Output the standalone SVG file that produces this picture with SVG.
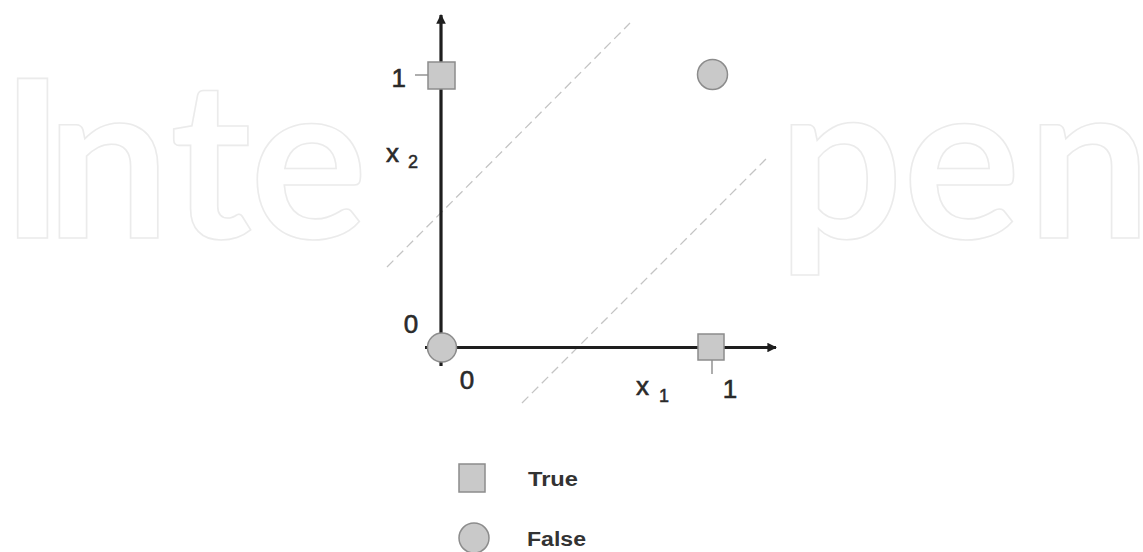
<svg xmlns="http://www.w3.org/2000/svg" width="1143" height="552" viewBox="0 0 1143 552">
<style>
.wm{font-family:Lato,"Liberation Sans",sans-serif;font-weight:700;font-size:220px;fill:none;stroke:#ebebeb;stroke-width:1.6}
.lbl{font-family:"Liberation Sans",Arial,sans-serif;font-size:26px;fill:#2a2a2a;stroke:#2a2a2a;stroke-width:0.6}
.sub{font-family:"Liberation Sans",Arial,sans-serif;font-size:18px;fill:#2a2a2a;stroke:#2a2a2a;stroke-width:0.5}
.leg{font-family:"Liberation Sans",Arial,sans-serif;font-weight:700;font-size:20px;fill:#333}
.mk{fill:#c9c9c9;stroke:#8c8c8c;stroke-width:1.5}
.axis{stroke:#1e1e1e;stroke-width:3.2;fill:none}
.dash{stroke:#c4c4c4;stroke-width:1.3;stroke-dasharray:9 5;fill:none}
.tick{stroke:#777;stroke-width:1.2}
</style>
<defs>
<marker id="arr" viewBox="0 0 10 10" refX="9" refY="5" markerWidth="3" markerHeight="3" orient="auto" markerUnits="strokeWidth">
<path d="M0,0 L10,5 L0,10 Z" fill="#1e1e1e"/>
</marker>
</defs>
<rect width="1143" height="552" fill="#fff"/>
<g id="watermark">
<text class="wm" x="0 46 170 250" y="238">Inte</text>
<text class="wm" x="778 903 1027" y="238">pen</text>
</g>
<g id="connectors">
<line class="dash" x1="387" y1="267" x2="630" y2="23"/>
<line class="dash" x1="522" y1="403" x2="767" y2="158"/>
<line class="axis" x1="441" y1="366" x2="441" y2="15" marker-end="url(#arr)"/>
<line class="axis" x1="425" y1="347.5" x2="776" y2="347.5" marker-end="url(#arr)"/>
<line class="tick" x1="415" y1="75" x2="428" y2="75"/>
<line class="tick" x1="712" y1="360" x2="712" y2="374"/>
</g>
<g id="p01"><rect class="mk" x="428" y="62" width="27" height="27"/></g>
<g id="p11"><circle class="mk" cx="712.5" cy="74.5" r="15"/></g>
<g id="p00"><circle class="mk" cx="442" cy="347.5" r="14.5"/></g>
<g id="p10"><rect class="mk" x="698" y="334" width="26" height="26"/></g>
<g id="labels">
<text class="lbl" x="406" y="87" text-anchor="end">1</text>
<text class="lbl" x="386" y="162">x</text>
<text class="sub" x="408" y="168">2</text>
<text class="lbl" x="411" y="333" text-anchor="middle">0</text>
<text class="lbl" x="467" y="389" text-anchor="middle">0</text>
<text class="lbl" x="636" y="395">x</text>
<text class="sub" x="659" y="402">1</text>
<text class="lbl" x="730" y="398" text-anchor="middle">1</text>
</g>
<g id="legend-true">
<rect class="mk" x="459" y="464" width="26" height="28"/>
<text class="leg" x="528" y="486" textLength="50" lengthAdjust="spacingAndGlyphs">True</text>
</g>
<g id="legend-false">
<circle class="mk" cx="474" cy="538" r="15"/>
<text class="leg" x="527" y="546" textLength="59" lengthAdjust="spacingAndGlyphs">False</text>
</g>
</svg>
